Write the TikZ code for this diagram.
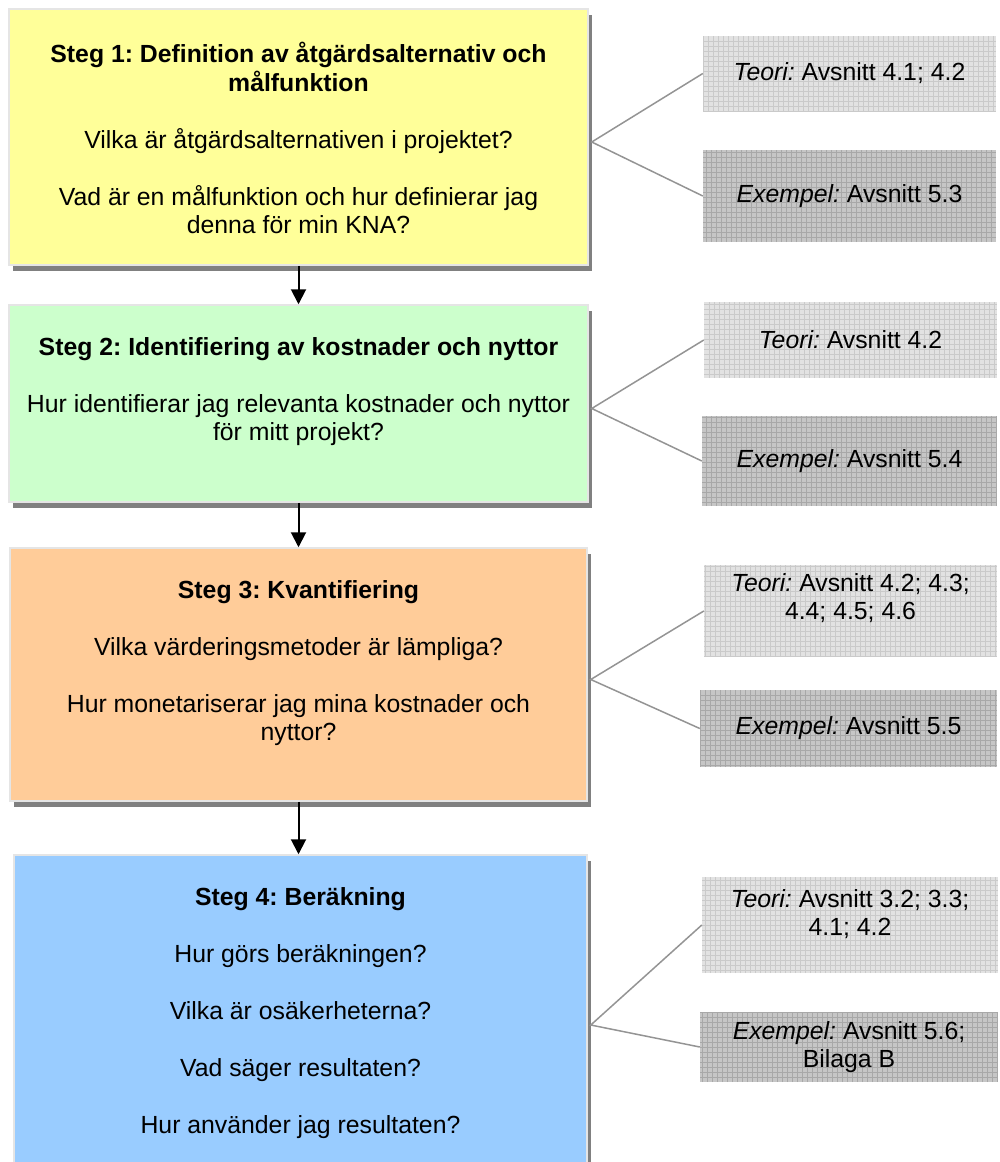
\documentclass[tikz,border=0pt]{standalone}
\usepackage{fontspec}
\setmainfont{Liberation Sans}
\frenchspacing
\usetikzlibrary{positioning, shadows, arrows.meta}

\definecolor{stegyellow}{HTML}{FFFF99}
\definecolor{steggreen}{HTML}{CCFFCC}
\definecolor{stegorange}{HTML}{FFCC99}
\definecolor{stegblue}{HTML}{99CCFF}
\definecolor{teorifill}{HTML}{E2E2E2}
\definecolor{teorigrid}{HTML}{CACACA}
\definecolor{exempelfill}{HTML}{C6C6C6}
\definecolor{exempelgrid}{HTML}{A8A8A8}

\tikzset{
    stepbox/.style={draw=black!10, line width=1.5pt, rectangle, inner sep=0pt,
        drop shadow={shadow xshift=4pt, shadow yshift=-6pt, fill=black!50, opacity=1}},
    steptext/.style={align=center, inner sep=0pt, font=\fontsize{24.8}{28.5}\selectfont},
    gridbox/.style 2 args={rectangle, inner sep=0pt, fill=#1, align=center,
        font=\fontsize{24.8}{28.5}\selectfont,
        path picture={\draw[#2, line width=0.55pt] (path picture bounding box.south west)
            grid[step=5pt] (path picture bounding box.north east);}},
    teoribox/.style={gridbox={teorifill}{teorigrid}},
    exempelbox/.style={gridbox={exempelfill}{exempelgrid}},
    flow/.style={line width=2pt, -{Triangle[length=15pt, width=15pt]}},
    link/.style={draw=black!42, line width=1.5pt}
}

\begin{document}
\begin{tikzpicture}[x=1pt, y=-1pt]
    \useasboundingbox (0,0) rectangle (999,1162);

    % steps
    \node[stepbox, fill=stegyellow, minimum width=579pt, minimum height=256pt] (steg1) at (298.5,137) {};
    \node[stepbox, fill=steggreen, minimum width=579pt, minimum height=197pt] (steg2) at (298.5,403.5) {};
    \node[stepbox, fill=stegorange, minimum width=577pt, minimum height=253pt] (steg3) at (298.5,674.5) {};
    \node[stepbox, fill=stegblue, minimum width=573pt, minimum height=330pt] (steg4) at (300.5,1020) {};

    \node[steptext, below=34pt of steg1.north] (text1) {\textbf{Steg 1: Definition av åtgärdsalternativ och}\\\textbf{målfunktion}\\[28.5pt]
        Vilka är åtgärdsalternativen i projektet?\\[28.5pt]
        Vad är en målfunktion och hur definierar jag\\denna för min KNA?};
    \node[steptext, below=33pt of steg2.north] (text2) {\textbf{Steg 2: Identifiering av kostnader och nyttor}\\[28.5pt]
        Hur identifierar jag relevanta kostnader och nyttor\\för mitt projekt?};
    \node[steptext, below=33pt of steg3.north] (text3) {\textbf{Steg 3: Kvantifiering}\\[28.5pt]
        Vilka värderingsmetoder är lämpliga?\\[28.5pt]
        Hur monetariserar jag mina kostnader och\\nyttor?};
    \node[steptext, below=33pt of steg4.north] (text4) {\textbf{Steg 4: Beräkning}\\[28.5pt]
        Hur görs beräkningen?\\[28.5pt]
        Vilka är osäkerheterna?\\[28.5pt]
        Vad säger resultaten?\\[28.5pt]
        Hur använder jag resultaten?};

    \draw[flow] (steg1.south) -- (steg2.north);
    \draw[flow] (steg2.south) -- (steg3.north);
    \draw[flow] (steg3.south) -- (steg3.south |- steg4.north);

    % references
    \node[teoribox, minimum width=293pt, minimum height=75pt] (teori1) at (849.5,73.5) {\textit{Teori:} Avsnitt 4.1; 4.2};
    \node[exempelbox, minimum width=293pt, minimum height=92pt] (exempel1) at (849.5,196) {\textit{Exempel:} Avsnitt 5.3};
    \node[teoribox, minimum width=293pt, minimum height=76pt] (teori2) at (850.5,340) {\textit{Teori:} Avsnitt 4.2};
    \node[exempelbox, minimum width=295pt, minimum height=90pt] (exempel2) at (849.5,461) {\textit{Exempel:} Avsnitt 5.4};
    \node[teoribox, minimum width=293pt, minimum height=92pt] (teori3) at (850.5,611) {};
    \node[exempelbox, minimum width=297pt, minimum height=77pt] (exempel3) at (848.5,728.5) {\textit{Exempel:} Avsnitt 5.5};
    \node[teoribox, minimum width=296pt, minimum height=96pt] (teori4) at (850,925) {};
    \node[exempelbox, minimum width=298pt, minimum height=70pt] (exempel4) at (849,1047) {\textit{Exempel:} Avsnitt 5.6;\\Bilaga B};

    \node[steptext] (teoritext3) at ([yshift=13pt]teori3.center) {\textit{Teori:} Avsnitt 4.2; 4.3;\\4.4; 4.5; 4.6};
    \node[steptext] (teoritext4) at ([yshift=11pt]teori4.center) {\textit{Teori:} Avsnitt 3.2; 3.3;\\4.1; 4.2};

    \foreach \i in {1,...,4} {
        \draw[link] (teori\i.west) -- ([xshift=3pt, yshift=-5pt]steg\i.east) -- (exempel\i.west);
    }
\end{tikzpicture}
\end{document}
